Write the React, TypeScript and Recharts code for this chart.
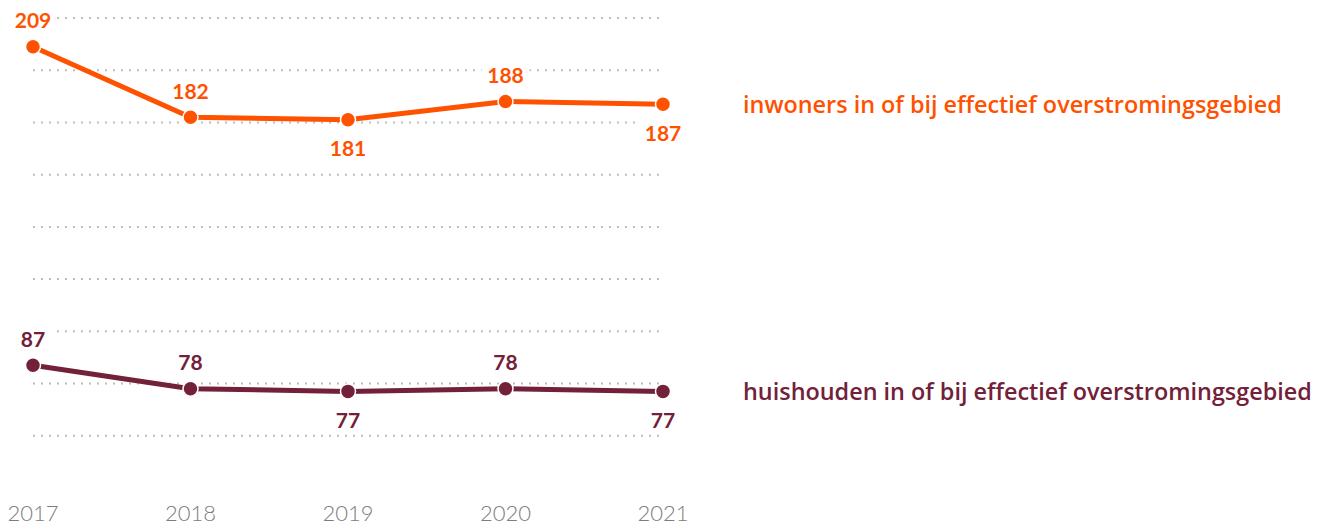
import React from "react";
import { LineChart, Line, XAxis, YAxis, CartesianGrid, LabelList } from "recharts";

const years = ["2017", "2018", "2019", "2020", "2021"];
const inwoners = [209, 182, 181, 188, 187];
const huishouden = [87, 78, 77, 78, 77];
const labelSide = ["top", "top", "bottom", "top", "bottom"];
const yTicks = [60, 80, 100, 120, 140, 160, 180, 200, 220];

const ORANGE = "#ff5200";
const MAROON = "#732039";
const FONT = "Lato, 'Open Sans', sans-serif";
const NAME_FONT = "'Open Sans', Lato, sans-serif";

const data = years.map((year, i) => ({ year, inwoners: inwoners[i], huishouden: huishouden[i] }));

const makeLabel = (color: string, name: string) => (props: any) => {
  const { x, y, value, index } = props;
  const side = labelSide[index];
  const ty = side === "top" ? y - 27 : y + 28;
  const w = String(value).length * 12 + 12;
  return (
    <g>
      <rect x={x - w / 2} y={ty - 12} width={w} height={24} fill="#fff" />
      <text x={x} y={ty} textAnchor="middle" dominantBaseline="central"
        fill={color} fontFamily={FONT} fontSize={21} fontWeight={700}>
        {value}
      </text>
      {index === years.length - 1 && (
        <text x={x + 80} y={y} dominantBaseline="central" fill={color}
          fontFamily={NAME_FONT} fontSize={23.4} fontWeight={600}>
          {name}
        </text>
      )}
    </g>
  );
};

export default function App() {
  return (
    <div style={{ position: "absolute", left: 0, top: 0, background: "#fff" }}>
      <LineChart width={1325} height={525} data={data}
        margin={{ top: 18, right: 662, left: 33, bottom: 7 }}>
        <CartesianGrid vertical={false} horizontalValues={yTicks} stroke="#bdbdbd"
          strokeWidth={2} strokeDasharray="2 6" />
        <XAxis dataKey="year" axisLine={false} tickLine={false} interval={0} height={30}
          tick={{ fill: "#7d7d7d", fontSize: 22, fontWeight: 300, fontFamily: FONT }} tickMargin={11} />
        <YAxis hide domain={[40, 220]} ticks={yTicks} />
        <Line dataKey="inwoners" stroke={ORANGE} strokeWidth={5} isAnimationActive={false}
          dot={{ r: 7.5, fill: ORANGE, stroke: "#fff", strokeWidth: 1.5 }}>
          <LabelList dataKey="inwoners" content={makeLabel(ORANGE, "inwoners in of bij effectief overstromingsgebied")} />
        </Line>
        <Line dataKey="huishouden" stroke={MAROON} strokeWidth={5} isAnimationActive={false}
          dot={{ r: 7.5, fill: MAROON, stroke: "#fff", strokeWidth: 1.5 }}>
          <LabelList dataKey="huishouden" content={makeLabel(MAROON, "huishouden in of bij effectief overstromingsgebied")} />
        </Line>
      </LineChart>
    </div>
  );
}
